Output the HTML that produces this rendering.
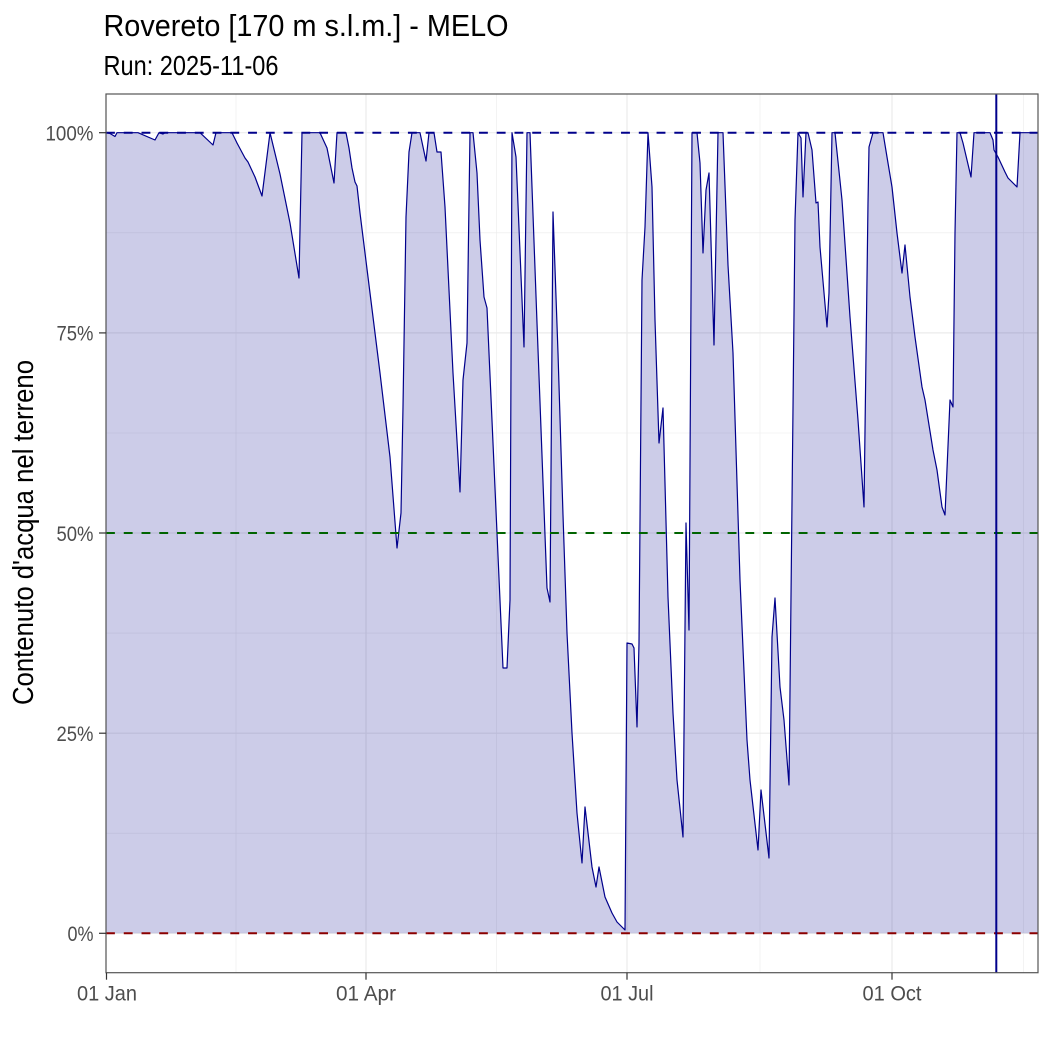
<!DOCTYPE html>
<html>
<head>
<meta charset="utf-8">
<style>
  html, body { margin: 0; padding: 0; background: #ffffff; }
  svg { display: block; }
  text { font-family: "Liberation Sans", "DejaVu Sans", sans-serif; }
</style>
</head>
<body>
<svg width="1050" height="1050" viewBox="0 0 1050 1050" xmlns="http://www.w3.org/2000/svg">
  <rect x="0" y="0" width="1050" height="1050" fill="#ffffff"/>

  <!-- Title & subtitle -->
  <text x="103.5" y="36" font-size="31" fill="#000000" textLength="405" lengthAdjust="spacingAndGlyphs">Rovereto [170 m s.l.m.] - MELO</text>
  <text x="103.5" y="75" font-size="27.5" fill="#000000" textLength="175" lengthAdjust="spacingAndGlyphs">Run: 2025-11-06</text>

  <!-- Panel background -->
  <rect x="106" y="94" width="932" height="878.7" fill="#ffffff"/>

  <!-- Minor grid -->
  <g stroke="#EBEBEB" stroke-width="0.6">
    <line x1="106" y1="833.2" x2="1038" y2="833.2"/>
    <line x1="106" y1="633.1" x2="1038" y2="633.1"/>
    <line x1="106" y1="433" x2="1038" y2="433"/>
    <line x1="106" y1="232.8" x2="1038" y2="232.8"/>
    <line x1="236" y1="94" x2="236" y2="972.7"/>
    <line x1="496.5" y1="94" x2="496.5" y2="972.7"/>
    <line x1="760" y1="94" x2="760" y2="972.7"/>
    <line x1="1023.5" y1="94" x2="1023.5" y2="972.7"/>
  </g>
  <!-- Major grid -->
  <g stroke="#EBEBEB" stroke-width="1.2">
    <line x1="106" y1="933.3" x2="1038" y2="933.3"/>
    <line x1="106" y1="733.2" x2="1038" y2="733.2"/>
    <line x1="106" y1="533" x2="1038" y2="533"/>
    <line x1="106" y1="332.9" x2="1038" y2="332.9"/>
    <line x1="106" y1="132.7" x2="1038" y2="132.7"/>
    <line x1="106" y1="94" x2="106" y2="972.7"/>
    <line x1="366" y1="94" x2="366" y2="972.7"/>
    <line x1="627" y1="94" x2="627" y2="972.7"/>
    <line x1="892" y1="94" x2="892" y2="972.7"/>
  </g>

  <!-- Area fill -->
  <polygon fill="#00008B" fill-opacity="0.2" stroke="none" points="106,933.3 106,132.7 110,133.5 115,136.5 117,132.7 138,132.7 155,140 159,132.7 163,134 165,132.7 200,132.7 213,145 216,132.7 232,132.7 237,143 245,158 248,162 255,177 262,196 270,132.7 280,174 290,223 299,278 302,132.7 320,132.7 327,148 334,183 337,132.7 346,132.7 349,148 352,168 355,182 357,186 360,213 368,277 380,373 390,457 397,548 401,513 403,407 406,217 409,152 412,132.7 420,132.7 426,161 429,132.7 434,132.7 437,152 441,152 445,207 453,373 460,492 463,380 467,343 470,132.7 473,132.7 477,173 480,240 484,297 487,308 497,533 503,668 507,668 510,600 512,132.7 516,157 524,347 527,132.7 530,132.7 537,323 547,588 550,602 553,212 558,353 563,515 567,633 572,733 577,813 582,863 585,807 592,867 596,887 599,867 605,897 612,913 617,922 625,930 627,643 632,644 634,648 637,727 639,643 642,280 645,227 648,132.7 652,187 655,320 659,443 663,408 668,597 673,713 677,780 683,837 686,523 689,630 692,132.7 697,132.7 700,163 703,253 706,190 709,173 714,345 718,132.7 723,132.7 728,265 733,353 740,580 747,740 750,780 758,850 761,790 769,858 772,637 775,598 780,687 784,720 789,785 795,220 798,132.7 801,138 803,197 806,132.7 808,132.7 812,150 816,203 818,202 820,247 827,327 829,293 832,132.7 835,132.7 842,200 850,317 858,420 864,507 868,203 869,147 873,132.7 883,132.7 887,157 892,187 897,233 902,273 905,245 910,297 915,337 922,387 925,400 933,450 937,470 942,507 945,515 950,400 953,407 955,233 957,132.7 960,132.7 963,143 971,177 974,132.7 990,132.7 993,140 994,150 998,157 1005,172 1008,178 1017,187 1020,132.7 1038,132.7 1038,933.3"/>

  <!-- Data line -->
  <polyline fill="none" stroke="#00008B" stroke-width="1.2" stroke-linejoin="round" points="106,132.7 110,133.5 115,136.5 117,132.7 138,132.7 155,140 159,132.7 163,134 165,132.7 200,132.7 213,145 216,132.7 232,132.7 237,143 245,158 248,162 255,177 262,196 270,132.7 280,174 290,223 299,278 302,132.7 320,132.7 327,148 334,183 337,132.7 346,132.7 349,148 352,168 355,182 357,186 360,213 368,277 380,373 390,457 397,548 401,513 403,407 406,217 409,152 412,132.7 420,132.7 426,161 429,132.7 434,132.7 437,152 441,152 445,207 453,373 460,492 463,380 467,343 470,132.7 473,132.7 477,173 480,240 484,297 487,308 497,533 503,668 507,668 510,600 512,132.7 516,157 524,347 527,132.7 530,132.7 537,323 547,588 550,602 553,212 558,353 563,515 567,633 572,733 577,813 582,863 585,807 592,867 596,887 599,867 605,897 612,913 617,922 625,930 627,643 632,644 634,648 637,727 639,643 642,280 645,227 648,132.7 652,187 655,320 659,443 663,408 668,597 673,713 677,780 683,837 686,523 689,630 692,132.7 697,132.7 700,163 703,253 706,190 709,173 714,345 718,132.7 723,132.7 728,265 733,353 740,580 747,740 750,780 758,850 761,790 769,858 772,637 775,598 780,687 784,720 789,785 795,220 798,132.7 801,138 803,197 806,132.7 808,132.7 812,150 816,203 818,202 820,247 827,327 829,293 832,132.7 835,132.7 842,200 850,317 858,420 864,507 868,203 869,147 873,132.7 883,132.7 887,157 892,187 897,233 902,273 905,245 910,297 915,337 922,387 925,400 933,450 937,470 942,507 945,515 950,400 953,407 955,233 957,132.7 960,132.7 963,143 971,177 974,132.7 990,132.7 993,140 994,150 998,157 1005,172 1008,178 1017,187 1020,132.7 1038,132.7"/>

  <!-- Reference dashed lines -->
  <g stroke-width="2" stroke-dasharray="8.88 8.88" fill="none">
    <line x1="106" y1="132.7" x2="1038" y2="132.7" stroke="#00008B"/>
    <line x1="106" y1="533" x2="1038" y2="533" stroke="#006400"/>
    <line x1="106" y1="933.3" x2="1038" y2="933.3" stroke="#8B0000"/>
  </g>

  <!-- Vertical run line -->
  <line x1="996.3" y1="94" x2="996.3" y2="972.7" stroke="#00008B" stroke-width="2"/>

  <!-- Panel border -->
  <rect x="106" y="94" width="932" height="878.7" fill="none" stroke="#555555" stroke-width="1.2"/>

  <!-- Ticks -->
  <g stroke="#333333" stroke-width="1.2">
    <line x1="99" y1="132.7" x2="106" y2="132.7"/>
    <line x1="99" y1="332.9" x2="106" y2="332.9"/>
    <line x1="99" y1="533" x2="106" y2="533"/>
    <line x1="99" y1="733.2" x2="106" y2="733.2"/>
    <line x1="99" y1="933.3" x2="106" y2="933.3"/>
    <line x1="106.5" y1="972.7" x2="106.5" y2="979.7"/>
    <line x1="366" y1="972.7" x2="366" y2="979.7"/>
    <line x1="627" y1="972.7" x2="627" y2="979.7"/>
    <line x1="892" y1="972.7" x2="892" y2="979.7"/>
  </g>

  <!-- Y tick labels -->
  <g font-size="21.5" fill="#4D4D4D" text-anchor="end">
    <text x="93.5" y="140.5" textLength="48" lengthAdjust="spacingAndGlyphs">100%</text>
    <text x="93.5" y="340.7" textLength="37" lengthAdjust="spacingAndGlyphs">75%</text>
    <text x="93.5" y="540.8" textLength="37" lengthAdjust="spacingAndGlyphs">50%</text>
    <text x="93.5" y="741" textLength="37" lengthAdjust="spacingAndGlyphs">25%</text>
    <text x="93.5" y="941.1" textLength="26" lengthAdjust="spacingAndGlyphs">0%</text>
  </g>

  <!-- X tick labels -->
  <g font-size="21.5" fill="#4D4D4D">
    <text x="77" y="1000.7" textLength="60" lengthAdjust="spacingAndGlyphs">01 Jan</text>
    <text x="336" y="1000.7" textLength="60" lengthAdjust="spacingAndGlyphs">01 Apr</text>
    <text x="600.5" y="1000.7" textLength="53" lengthAdjust="spacingAndGlyphs">01 Jul</text>
    <text x="862.5" y="1000.7" textLength="59" lengthAdjust="spacingAndGlyphs">01 Oct</text>
  </g>

  <!-- Y axis title -->
  <text transform="translate(33,705) rotate(-90)" x="0" y="0" font-size="28.4" fill="#000000" textLength="345" lengthAdjust="spacingAndGlyphs">Contenuto d'acqua nel terreno</text>
</svg>
</body>
</html>
